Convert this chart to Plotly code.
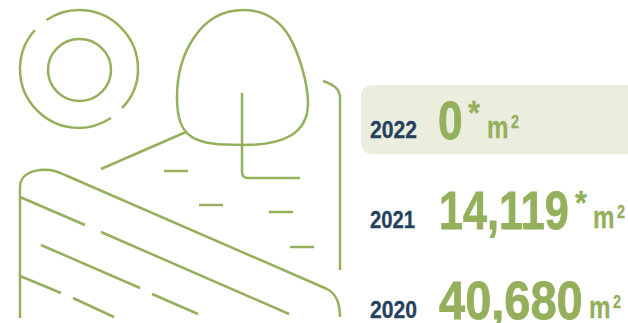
import plotly.graph_objects as go

# Figures shown beside the landscape icon
years = ["2022", "2021", "2020"]
areas = [0, 14119, 40680]
starred = [True, True, False]
unit = "m"
unit_power = "2"

GREEN = "#94b05c"
NAVY = "#26415e"
BAND = "#ebeddf"
FONT = "Liberation Sans"

# Text placement per row: baseline, then left edge of value, asterisk and unit
row_base = [138, 228, 318]
value_x = [439, 440, 440]
star_x = [469, 576, None]
unit_x = [488, 594, 590]

# Landscape icon outlines, in page pixels
icon_paths = [
    # sun, outer ring in two arcs
    "M46.5,20 C56,13.5 67,10 79,10 C111.6,10 138,36.4 138,69 C138,84 132,98 122,108",
    "M111,118 C101,124.5 90,128 79,128 C46.4,128 20,101.6 20,69 C20,54 25.5,40.5 35,30",
    # sun, inner ring
    "M48,70 C48,52.9 62,39 79.5,39 C97,39 111,52.9 111,70 C111,87.1 97,101 79.5,101 C62,101 48,87.1 48,70 Z",
    # tree crown
    "M243,10 C262,10 278,18 289,36 C300,55 308,85 308,103 C308,133 285,145 243,145 "
    "C195,145 177,140 177,97 C177,55 200,10 243,10 Z",
    # trunk with its ground line
    "M242,93 V172 Q242,178 248,178 H300",
    # hill behind the tree
    "M101,169 L186,132",
    # grass strokes
    "M164,171 H188", "M199,205 H223", "M269,212 H293", "M290,247 H314",
    # right edge of the scene
    "M323,81 C332,84 340,88 340,98 V270",
    # field outline
    "M20,318 V187 C20,170 45,165 65,175 L327,289 C335,293 340,303 340,317",
    # furrows
    "M20,197 L85,225", "M101,232 L289,314", "M41,245 L140,288",
    "M152,294 L198,314", "M20,276 L61,293", "M73,298 L114,317",
]

shapes = [
    dict(type="path", xref="x", yref="y", layer="below", line_width=0, fillcolor=BAND,
         path="M373,85 H640 V154 H373 Q361,154 361,142 V97 Q361,85 373,85 Z")
]
shapes += [
    dict(type="path", xref="x", yref="y", path=p, line=dict(color=GREEN, width=2.5))
    for p in icon_paths
]


def label(x, base, text, size, color, lift=0.0):
    # Annotation boxes are anchored by their bottom edge; drop by the descender to sit on the baseline
    return dict(x=x, y=base, text=text, xref="x", yref="y", xanchor="left", yanchor="bottom",
                showarrow=False, borderpad=0, borderwidth=0,
                yshift=-size * 0.21 + lift, xshift=-1,
                font=dict(family=FONT, size=size, color=color, weight="bold"))


annotations = []
for i, year in enumerate(years):
    annotations.append(label(371, row_base[i], year, 23, NAVY))
    annotations.append(label(value_x[i], row_base[i] + 1, f"{areas[i]:,}", 54, GREEN))
    annotations.append(label(unit_x[i], row_base[i], unit, 31, GREEN))
    annotations.append(label(unit_x[i] + 24, row_base[i], unit_power, 18, GREEN, lift=10))
    if starred[i]:
        annotations.append(label(star_x[i], row_base[i], "*", 34, GREEN, lift=14))

fig = go.Figure(go.Scatter(x=[None], y=[None], showlegend=False))
fig.update_layout(
    width=628, height=323,
    margin=dict(l=0, r=0, t=0, b=0),
    paper_bgcolor="white", plot_bgcolor="white",
    xaxis=dict(range=[0, 628], visible=False, fixedrange=True),
    yaxis=dict(range=[323, 0], visible=False, fixedrange=True),
    shapes=shapes, annotations=annotations, showlegend=False,
)

# Squeeze the labels horizontally from their left edge to get a condensed face
condense = """
var byText = {'0': 0.82, '14,119': 0.80, '40,680': 0.87, '2021': 0.88, '*': 0.9};
var bySize = {23: 0.92, 31: 0.78, 18: 0.8};
document.querySelectorAll('.annotation-text').forEach(function (t) {
  var size = Math.round(parseFloat(t.style.fontSize));
  var k = byText[t.textContent] || bySize[size] || 1;
  var left = t.getBBox().x;
  t.setAttribute('transform', 'translate(' + left + ',0) scale(' + k + ',1) translate(' + (-left) + ',0)');
  t.style.stroke = t.style.fill;
  t.style.strokeWidth = size > 40 ? '0.8px' : '0.3px';
});
"""
fig.write_html("out.html", config=dict(displayModeBar=False), post_script=condense)
